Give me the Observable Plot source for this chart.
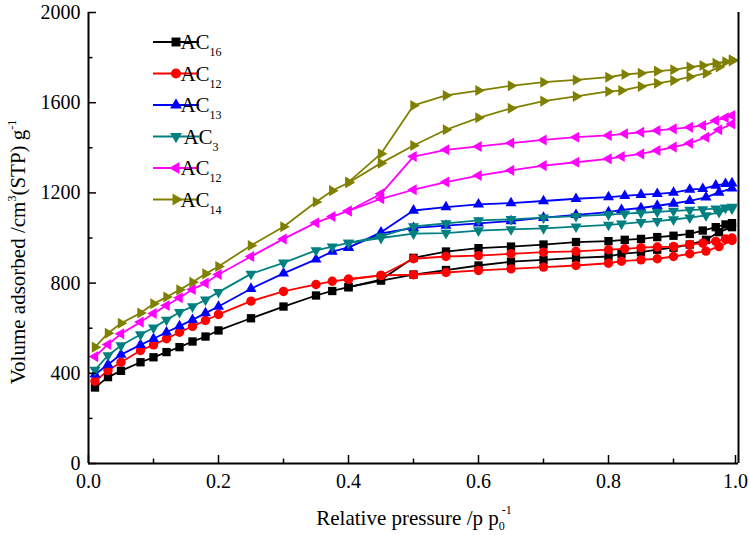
<!DOCTYPE html>
<html><head><meta charset="utf-8">
<script src="https://cdn.jsdelivr.net/npm/d3@7"></script>
<script src="https://cdn.jsdelivr.net/npm/@observablehq/plot@0.6"></script>
<style>
body{margin:0;background:#fff;}
#chart{position:relative;width:749px;height:535px;}
</style>
</head><body><div id="chart"></div>
<script>
// Relative pressure points (adsorption and desorption branches)
const adsP = [0.01,0.03,0.05,0.08,0.10,0.12,0.14,0.16,0.18,0.20,0.25,0.30,0.35,0.375,0.40,0.45,0.50,0.55,0.60,0.65,0.70,0.75,0.80,0.82,0.85,0.875,0.90,0.925,0.95,0.97,0.99];
const desP = [0.99,0.98,0.965,0.945,0.925,0.90,0.875,0.85,0.825,0.80,0.75,0.70,0.65,0.60,0.55,0.50,0.45,0.40];

const ac16Ads = [337,383,411,449,471,494,516,541,563,590,644,696,745,765,782,811,838,858,878,895,903,912,918,930,937,948,957,971,992,1026,1048];
const ac16Des = [1066,1060,1048,1033,1018,1010,1004,996,992,986,982,971,962,955,940,912,815,782];
const ac12aAds = [365,412,449,501,526,553,582,608,634,661,720,763,794,808,817,834,837,847,856,863,871,878,888,897,903,908,918,930,942,962,989];
const ac12aDes = [1000,996,985,977,971,962,960,957,952,948,941,937,930,922,918,908,834,817];
const ac13Ads = [395,439,483,526,553,582,609,637,667,696,775,843,905,940,958,1020,1045,1055,1065,1075,1090,1103,1115,1125,1133,1143,1153,1165,1180,1202,1220];
const ac13Des = [1243,1240,1233,1218,1215,1201,1196,1192,1187,1181,1174,1164,1155,1149,1137,1122,1025,958];
const ac3Ads = [415,479,523,572,602,637,671,696,726,760,841,890,945,962,978,1000,1019,1022,1033,1038,1043,1050,1058,1063,1070,1075,1082,1090,1100,1115,1130];
const ac3Des = [1138,1134,1130,1127,1124,1120,1116,1112,1108,1104,1097,1090,1083,1078,1065,1051,1007,978];
const ac12bAds = [474,528,575,627,665,701,735,772,800,838,918,996,1068,1095,1120,1174,1214,1248,1277,1300,1321,1336,1351,1361,1373,1388,1403,1420,1447,1480,1506];
const ac12bDes = [1543,1533,1521,1499,1491,1484,1477,1469,1462,1455,1447,1435,1421,1406,1391,1361,1196,1120];
const ac14Ads = [516,578,622,667,708,738,770,804,841,874,967,1050,1160,1210,1245,1332,1410,1480,1533,1575,1607,1628,1650,1654,1672,1686,1698,1715,1731,1758,1785];
const ac14Des = [1790,1782,1775,1765,1758,1746,1740,1731,1725,1713,1701,1691,1675,1654,1632,1588,1374,1248];

const seriesSub = ["16","12","13","3","12","14"];
const seriesColors = ["#000000","#ff0000","#0000ff","#008080","#ff00ff","#808000"];
const seriesAds = [ac16Ads, ac12aAds, ac13Ads, ac3Ads, ac12bAds, ac14Ads];
const seriesDes = [ac16Des, ac12aDes, ac13Des, ac3Des, ac12bDes, ac14Des];

const yMajor = [0,400,800,1200,1600,2000];
const yMinor = [200,600,1000,1400,1800];
const xMajor = [0,0.2,0.4,0.6,0.8];
const xLast = [1.0];
const xMinor = [0.1,0.3,0.5,0.7,0.9];

// marker shapes
function tri(angleDeg){
  const a0 = angleDeg*Math.PI/180;
  return {draw(ctx,size){
    const R = Math.sqrt(size)*0.72;
    for(let k=0;k<3;k++){
      const a = a0 + k*2*Math.PI/3;
      const px = R*Math.cos(a), py = R*Math.sin(a);
      if(k===0) ctx.moveTo(px,py); else ctx.lineTo(px,py);
    }
    ctx.closePath();
  }};
}
const seriesSymbols = [d3.symbolSquare, d3.symbolCircle, tri(-90), tri(90), tri(180), tri(0)];
const symbolR = [4.7,4.7,5,5,5,5];

const dataMarks = [];
seriesAds.forEach((ads,i)=>{
  const rows = [];
  ads.forEach((v,j)=>rows.push({p:adsP[j], v, b:"ads"}));
  seriesDes[i].forEach((v,j)=>rows.push({p:desP[j], v, b:"des"}));
  dataMarks.push(Plot.line(rows,{x:"p",y:"v",z:"b",stroke:seriesColors[i],strokeWidth:1.8}));
  dataMarks.push(Plot.dot(rows,{x:"p",y:"v",symbol:seriesSymbols[i],r:symbolR[i],fill:seriesColors[i],stroke:"none"}));
});

const font = "Liberation Serif, Times New Roman, serif";
const plot = Plot.plot({
  width:749, height:535,
  marginLeft:88, marginRight:11, marginTop:12, marginBottom:72,
  x:{domain:[0,1]}, y:{domain:[0,2000]},
  style:{fontFamily:font, fontSize:"20px", color:"#000", background:"#fff", overflow:"visible"},
  marks:[
    ...dataMarks,
    Plot.axisY(yMajor,{tickSize:-8,tickPadding:16,label:null,fontSize:20,strokeWidth:1.5,tickFormat:d=>String(d)}),
    Plot.axisY(yMinor,{tickSize:-4.5,tickPadding:0,label:null,strokeWidth:1.5,tickFormat:()=>""}),
    Plot.axisX(xMajor,{tickSize:-8,tickPadding:18,label:null,fontSize:20,strokeWidth:1.5,tickFormat:d3.format(".1f")}),
    Plot.axisX(xLast,{tickSize:-8,tickPadding:18,label:null,fontSize:20,strokeWidth:1.5,dx:-3,tickFormat:d3.format(".1f")}),
    Plot.axisX(xMinor,{tickSize:-4.5,tickPadding:0,label:null,strokeWidth:1.5,tickFormat:()=>""}),
    Plot.ruleX([0,1],{strokeWidth:2}),
    Plot.ruleY([0],{strokeWidth:2})
  ]
});

const svg = d3.select(plot);
// axis titles
const yt = svg.append("text")
  .attr("transform","translate(25,252) rotate(-90)")
  .attr("text-anchor","middle").attr("font-family",font).attr("font-size",21).attr("fill","#000");
yt.append("tspan").text("Volume adsorbed /cm");
yt.append("tspan").attr("dy",-9).attr("font-size",12).text("3");
yt.append("tspan").attr("dy",9).text("(STP) g");
yt.append("tspan").attr("dy",-9).attr("font-size",12).text("-1");

const xt = svg.append("text")
  .attr("x",414).attr("y",525)
  .attr("text-anchor","middle").attr("font-family",font).attr("font-size",21).attr("fill","#000");
xt.append("tspan").text("Relative pressure /p p");
xt.append("tspan").attr("dy",5).attr("font-size",12).text("0");
xt.append("tspan").attr("dy",-16).attr("dx",-3).attr("font-size",12).text("-1");

// legend
const lg = svg.append("g");
seriesSub.forEach((sub,i)=>{
  const cy = 42 + i*31.5;
  const g = lg.append("g").attr("transform",`translate(0,${cy})`);
  g.append("line").attr("x1",153).attr("x2",199).attr("y1",0).attr("y2",0)
    .attr("stroke",seriesColors[i]).attr("stroke-width",2);
  g.append("path").attr("transform","translate(176,0)")
    .attr("d",d3.symbol().type(seriesSymbols[i]).size(symbolR[i]*symbolR[i]*Math.PI*1.15)())
    .attr("fill",seriesColors[i]);
  const t = g.append("text").attr("x",201).attr("y",7).attr("font-family",font)
    .attr("font-size",21).attr("fill","#000");
  t.append("tspan").text("AC");
  t.append("tspan").attr("dy",7).attr("font-size",12).text(sub);
});

document.getElementById("chart").appendChild(plot);
</script>
</body></html>
